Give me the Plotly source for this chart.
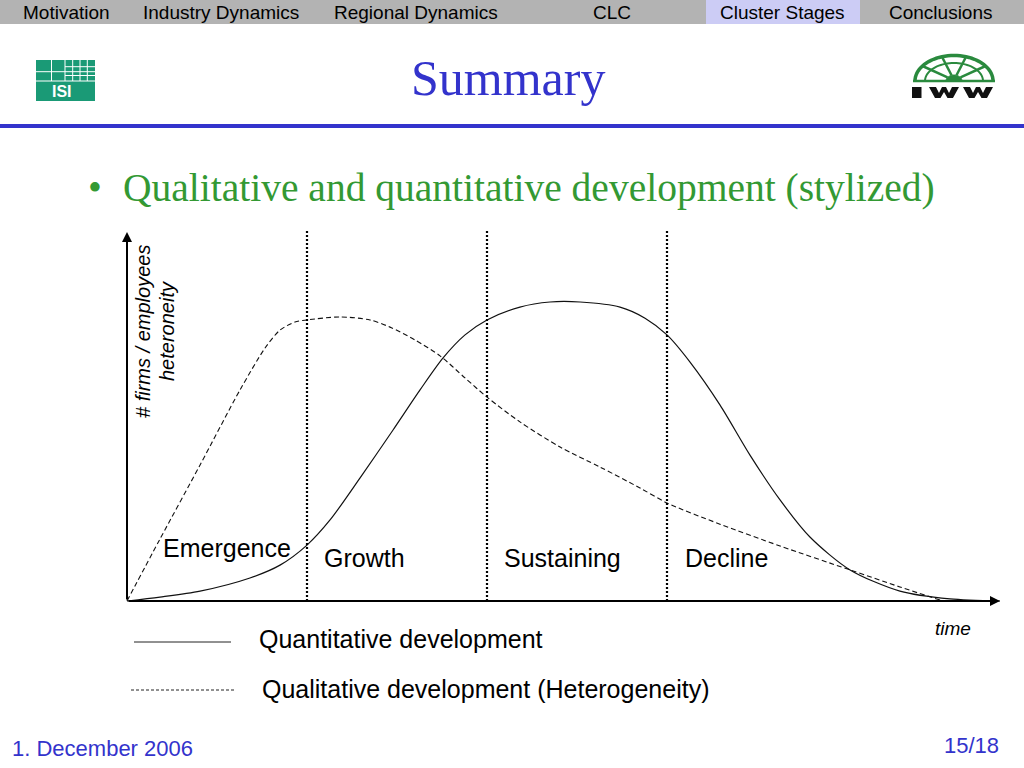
import math
import plotly.graph_objects as go

# ---------------- data ----------------
tabs = ["Motivation", "Industry Dynamics", "Regional Dynamics", "CLC", "Cluster Stages", "Conclusions"]
tab_centers = [66, 221, 416, 612, 782, 941]
active_tab = "Cluster Stages"

stages = ["Emergence", "Growth", "Sustaining", "Decline"]
stage_label_t = [0.556, 1.322, 2.422, 3.333]
stage_label_v = [17.7, 14.4, 14.4, 14.4]
stage_bounds = [1.0, 2.0, 3.0]

# quantitative development (solid)
quant_t = [0, 0.183, 0.406, 0.683, 0.85, 1.0, 1.128, 1.294, 1.478, 1.628, 1.756, 1.878, 2.0,
           2.183, 2.35, 2.517, 2.739, 2.878, 3.0, 3.128, 3.294, 3.461, 3.628, 3.794, 4.017,
           4.294, 4.572, 4.85]
quant_v = [0, 1.3, 3.3, 7.7, 12.0, 18.7, 27.1, 41.1, 57.2, 70.6, 81.3, 89.0, 94.0,
           98.3, 100, 100, 98.3, 94.6, 89.0, 79.9, 65.6, 48.8, 33.8, 21.4, 10.4,
           3.3, 0.7, 0]

# qualitative development / heterogeneity (dashed)
qual_t = [0, 0.183, 0.406, 0.628, 0.767, 0.85, 0.933, 1.0, 1.183, 1.35, 1.461, 1.6, 1.739,
          1.878, 2.0, 2.183, 2.406, 2.628, 2.85, 3.0, 3.294, 3.628, 4.017, 4.294, 4.517]
qual_v = [0, 20.7, 45.5, 70.6, 84.6, 90.6, 93.3, 94.0, 95.0, 94.0, 91.6, 87.3, 82.0,
          74.6, 68.2, 59.9, 51.5, 44.8, 37.8, 32.8, 25.7, 18.4, 10.4, 4.7, 0.3]

t_max = 4.85
v_max = 123.4

series_names = ["Quantitative development", "Qualitative development (Heterogeneity)"]
y_label_1 = "# firms / employees"
y_label_2 = "heteroneity"
x_label = "time"

title = "Summary"
bullet = "Qualitative and quantitative development (stylized)"
footer_left = "1. December 2006"
footer_right = "15/18"

# ---------------- layout helpers (pixel -> paper) ----------------
W, H = 1024, 768
def X(px):
    return px / W
def Y(py):
    return 1 - py / H

SANS = "Liberation Sans, Arial, Helvetica, sans-serif"
SERIF = "Liberation Serif, Times New Roman, serif"
BLUE = "#3333cc"
GREEN = "#339933"

fig = go.Figure()

fig.add_trace(go.Scatter(x=quant_t, y=quant_v, mode="lines", name=series_names[0],
                         line=dict(color="#111111", width=1.2, shape="spline", smoothing=0.8),
                         showlegend=False, cliponaxis=False, hoverinfo="skip"))
fig.add_trace(go.Scatter(x=qual_t, y=qual_v, mode="lines", name=series_names[1],
                         line=dict(color="#111111", width=1.1, dash="5px,3px", shape="spline", smoothing=0.8),
                         showlegend=False, cliponaxis=False, hoverinfo="skip"))

shapes = []
annotations = []

# stage boundaries (dotted)
for b in stage_bounds:
    shapes.append(dict(type="line", xref="x", yref="y", x0=b, x1=b, y0=0, y1=124,
                       line=dict(color="black", width=2.2, dash="2px,2px")))

# axes with arrows
annotations.append(dict(xref="x", yref="y", axref="x", ayref="y", x=t_max, y=0, ax=0, ay=0,
                        showarrow=True, arrowhead=2, arrowsize=1, arrowwidth=2, arrowcolor="black",
                        text="", standoff=0, startstandoff=0))
annotations.append(dict(xref="x", yref="y", axref="x", ayref="y", x=0, y=v_max, ax=0, ay=0,
                        showarrow=True, arrowhead=2, arrowsize=1, arrowwidth=2, arrowcolor="black",
                        text="", standoff=0, startstandoff=0))

# stage labels
for name, t, v in zip(stages, stage_label_t, stage_label_v):
    annotations.append(dict(xref="x", yref="y", x=t, y=v, text=name, showarrow=False,
                            font=dict(family=SANS, size=25, color="black"),
                            xanchor="center", yanchor="middle"))

# axis labels
annotations.append(dict(xref="paper", yref="paper", x=X(143), y=Y(332), text=y_label_1, showarrow=False,
                        textangle=-90, font=dict(family=SANS, size=20, color="black", style="italic"),
                        xanchor="center", yanchor="middle"))
annotations.append(dict(xref="paper", yref="paper", x=X(167), y=Y(331), text=y_label_2, showarrow=False,
                        textangle=-90, font=dict(family=SANS, size=20, color="black", style="italic"),
                        xanchor="center", yanchor="middle"))
annotations.append(dict(xref="paper", yref="paper", x=X(953), y=Y(628), text=x_label, showarrow=False,
                        font=dict(family=SANS, size=19, color="black", style="italic"),
                        xanchor="center", yanchor="middle"))

# manual legend
shapes.append(dict(type="line", xref="paper", yref="paper", x0=X(134), x1=X(231), y0=Y(642), y1=Y(642),
                   line=dict(color="#222222", width=1)))
shapes.append(dict(type="line", xref="paper", yref="paper", x0=X(131), x1=X(236), y0=Y(690), y1=Y(690),
                   line=dict(color="#222222", width=1, dash="3px,2px")))
annotations.append(dict(xref="paper", yref="paper", x=X(257), y=Y(639), text=series_names[0], showarrow=False,
                        font=dict(family=SANS, size=25, color="black"), xanchor="left", yanchor="middle"))
annotations.append(dict(xref="paper", yref="paper", x=X(260), y=Y(689), text=series_names[1], showarrow=False,
                        font=dict(family=SANS, size=25, color="black"), xanchor="left", yanchor="middle"))

# ---------------- slide decoration ----------------
# header bar
shapes.append(dict(type="rect", xref="paper", yref="paper", x0=0, x1=1, y0=Y(24), y1=1,
                   fillcolor="#b3b3b3", line=dict(width=0), layer="below"))
shapes.append(dict(type="rect", xref="paper", yref="paper", x0=X(706), x1=X(860), y0=Y(24), y1=1,
                   fillcolor="#ccccf5", line=dict(width=0), layer="below"))
for name, cx_ in zip(tabs, tab_centers):
    annotations.append(dict(xref="paper", yref="paper", x=X(cx_), y=Y(12.5), text=name, showarrow=False,
                            font=dict(family=SANS, size=19, color="black"), xanchor="center", yanchor="middle"))

# blue rule
shapes.append(dict(type="rect", xref="paper", yref="paper", x0=0, x1=1, y0=Y(128), y1=Y(124),
                   fillcolor=BLUE, line=dict(width=0)))

# title
annotations.append(dict(xref="paper", yref="paper", x=X(508), y=Y(78), text=title, showarrow=False,
                        font=dict(family=SERIF, size=50, color=BLUE), xanchor="center", yanchor="middle"))

# bullet
annotations.append(dict(xref="paper", yref="paper", x=X(86), y=Y(188), text="\u2022", showarrow=False,
                        font=dict(family=SERIF, size=39.5, color=GREEN), xanchor="left", yanchor="middle"))
annotations.append(dict(xref="paper", yref="paper", x=X(121), y=Y(188), text=bullet, showarrow=False,
                        font=dict(family=SERIF, size=39.5, color=GREEN), xanchor="left", yanchor="middle"))

# footer
annotations.append(dict(xref="paper", yref="paper", x=X(10), y=Y(748), text=footer_left, showarrow=False,
                        font=dict(family=SANS, size=22, color=BLUE), xanchor="left", yanchor="middle"))
annotations.append(dict(xref="paper", yref="paper", x=X(1001), y=Y(745), text=footer_right, showarrow=False,
                        font=dict(family=SANS, size=22, color=BLUE), xanchor="right", yanchor="middle"))

# ISI logo
ISI_G = "#1a9a76"
shapes.append(dict(type="rect", xref="paper", yref="paper", x0=X(36), x1=X(95), y0=Y(101), y1=Y(60),
                   fillcolor=ISI_G, line=dict(width=0)))
for px, y_top, y_bot in [(51.5, 60, 81), (65, 60, 81), (72.7, 60, 81), (80, 60, 81), (87.3, 60, 81)]:
    shapes.append(dict(type="line", xref="paper", yref="paper", x0=X(px), x1=X(px), y0=Y(y_top), y1=Y(y_bot),
                       line=dict(color="white", width=1)))
for py, x_start in [(71.7, 36), (66.7, 65), (75.5, 65), (81, 36)]:
    shapes.append(dict(type="line", xref="paper", yref="paper", x0=X(x_start), x1=X(95), y0=Y(py), y1=Y(py),
                       line=dict(color="white", width=1)))
annotations.append(dict(xref="paper", yref="paper", x=X(61.5), y=Y(91), text="<b>ISI</b>", showarrow=False,
                        font=dict(family=SANS, size=16, color="white"), xanchor="center", yanchor="middle"))

# IWW logo
IWW_G = "#2a8a3e"
cx, cy = 954, 81
def arc_path(rx, ry, n=40):
    pts = []
    for i in range(n + 1):
        a = math.pi * i / n
        pts.append((X(cx - rx * math.cos(a)), Y(cy - ry * math.sin(a))))
    return "M " + " L ".join(f"{p[0]:.5f},{p[1]:.5f}" for p in pts)
shapes.append(dict(type="path", xref="paper", yref="paper", path=arc_path(39, 25.5),
                   line=dict(color=IWW_G, width=3.5)))
shapes.append(dict(type="path", xref="paper", yref="paper", path=arc_path(29, 18),
                   line=dict(color=IWW_G, width=2)))
shapes.append(dict(type="path", xref="paper", yref="paper", path=arc_path(8, 6) + " Z",
                   fillcolor=IWW_G, line=dict(color=IWW_G, width=1)))
for ang in [36, 72, 108, 144]:
    a = math.radians(ang)
    shapes.append(dict(type="line", xref="paper", yref="paper",
                       x0=X(cx + 8 * math.cos(a)), y0=Y(cy - 6 * math.sin(a)),
                       x1=X(cx + 39 * math.cos(a)), y1=Y(cy - 25.5 * math.sin(a)),
                       line=dict(color=IWW_G, width=2.5)))
shapes.append(dict(type="line", xref="paper", yref="paper", x0=X(913), x1=X(995), y0=Y(81), y1=Y(81),
                   line=dict(color=IWW_G, width=2.5)))

# IWW letters as filled glyph shapes
def poly(points):
    return "M " + " L ".join(f"{X(px):.5f},{Y(py):.5f}" for px, py in points) + " Z"
letter_top, letter_h = 87, 11
shapes.append(dict(type="rect", xref="paper", yref="paper", x0=X(912), x1=X(921.5),
                   y0=Y(letter_top + letter_h), y1=Y(letter_top), fillcolor="#111111", line=dict(width=0)))
w_outline = [(0, 0), (7, 0), (10, 6), (13, 0), (17, 0), (20, 6), (23, 0), (30, 0),
             (24, 11), (18.5, 11), (15, 5), (11.5, 11), (6, 11)]
for x0 in [929, 963]:
    shapes.append(dict(type="path", xref="paper", yref="paper",
                       path=poly([(x0 + dx, letter_top + dy) for dx, dy in w_outline]),
                       fillcolor="#111111", line=dict(width=0)))

# ---------------- axes mapping ----------------
x_px0, px_per_t = 127, 180.0
y_px0, px_per_v = 601, 2.99
fig.update_layout(
    width=W, height=H,
    margin=dict(l=0, r=0, t=0, b=0),
    paper_bgcolor="white", plot_bgcolor="white",
    xaxis=dict(range=[-x_px0 / px_per_t, (W - x_px0) / px_per_t], domain=[0, 1], visible=False, fixedrange=True),
    yaxis=dict(range=[-(H - y_px0) / px_per_v, y_px0 / px_per_v], domain=[0, 1], visible=False, fixedrange=True),
    shapes=shapes, annotations=annotations,
    showlegend=False,
)

fig.write_html("out.html", config={"displayModeBar": False},
               post_script="document.body.style.margin='0';document.body.style.overflow='hidden';")
